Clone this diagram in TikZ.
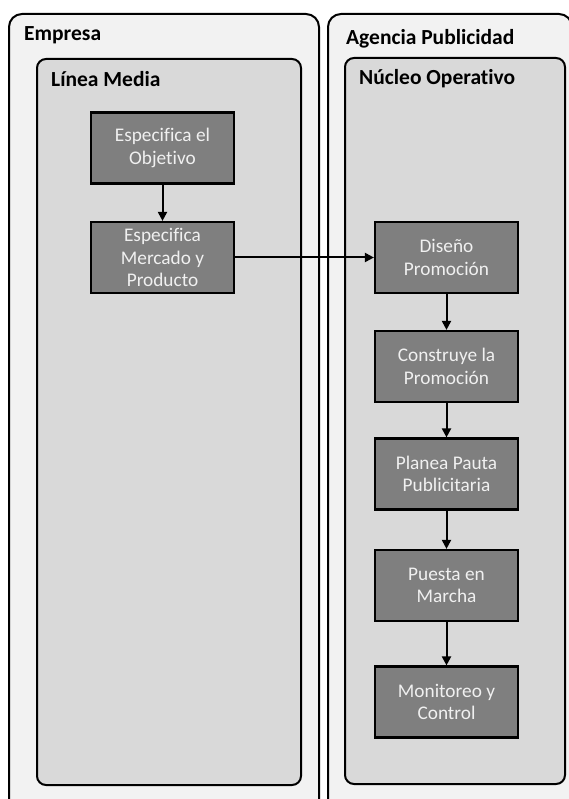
\documentclass[tikz,border=0pt]{standalone}
\usepackage{fontspec}
\setmainfont{Carlito}[Ligatures=NoCommon]
\usetikzlibrary{arrows.meta}
\definecolor{outerfill}{HTML}{F2F2F2}
\definecolor{innerfill}{HTML}{D9D9D9}
\definecolor{stepfill}{HTML}{7F7F7F}
\definecolor{steptext}{HTML}{F0F0F0}
\begin{document}
\begin{tikzpicture}[x=1pt,y=-1pt,
  outerbox/.style={draw=black, line width=2pt, fill=outerfill, rounded corners=13pt,
    anchor=north west, inner sep=0pt},
  innerbox/.style={draw=black, line width=2pt, fill=innerfill, rounded corners=9pt,
    anchor=north west, inner sep=0pt},
  stepbox/.style={draw=black, line width=2.2pt, fill=stepfill, text=steptext,
    minimum width=143pt, minimum height=71pt, inner sep=2pt, align=center,
    font=\fontsize{19.3}{22.5}\selectfont},
  title/.style={anchor=base west, inner sep=0pt, font=\fontsize{21.5}{24}\selectfont\bfseries},
  flow/.style={line width=2pt, -{Triangle[length=9pt,width=9pt]}}]
\useasboundingbox (0,0) rectangle (569,799);
\fill[white] (0,0) rectangle (569,799);
\clip (0,0) rectangle (569,799);

% swimlanes
\node[outerbox, minimum width=310pt, minimum height=820pt] (empresa) at (8,13) {};
\node[innerbox, minimum width=264pt, minimum height=726pt] (linea) at (36,58) {};
\node[outerbox, minimum width=244pt, minimum height=820pt] (agencia) at (327,13) {};
\node[innerbox, minimum width=220pt, minimum height=726pt] (nucleo) at (344,57) {};

% lane titles
\node[title] (tEmpresa) at (24,41) {Empresa};
\node[title] (tLinea) at (51,87) {Línea Media};
\node[title] (tAgencia) at (346,45) {Agencia Publicidad};
\node[title] (tNucleo) at (359,85) {Núcleo Operativo};

% process steps
\node[stepbox] (objetivo) at (162.5,148) {Especifica el\\Objetivo};
\node[stepbox] (mercado) at (162.5,257.5) {Especifica\\Mercado y\\Producto};
\node[stepbox] (diseno) at (446.5,257.5) {Diseño\\Promoción};
\node[stepbox] (construye) at (446.5,366.5) {Construye la\\Promoción};
\node[stepbox] (planea) at (446.5,474) {Planea Pauta\\Publicitaria};
\node[stepbox] (puesta) at (446.5,585.5) {Puesta en\\Marcha};
\node[stepbox] (monitoreo) at (446.5,702) {Monitoreo y\\Control};

% connectors
\draw[flow] (objetivo) -- (mercado);
\draw[flow] (mercado) -- (diseno);
\draw[flow] (diseno) -- (construye);
\draw[flow] (construye) -- (planea);
\draw[flow] (planea) -- (puesta);
\draw[flow] (puesta) -- (monitoreo);
\end{tikzpicture}
\end{document}
